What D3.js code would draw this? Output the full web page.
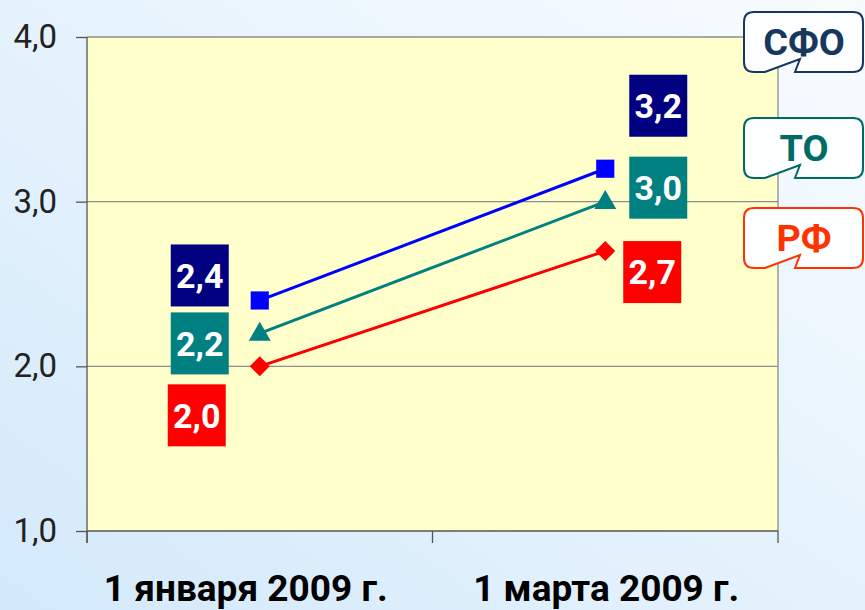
<!DOCTYPE html>
<html>
<head>
<meta charset="utf-8">
<script src="https://cdn.jsdelivr.net/npm/d3@7"></script>
<style>
  html, body { margin: 0; padding: 0; }
  body { width: 865px; height: 610px; overflow: hidden; font-family: Roboto, "Noto Sans", sans-serif; }
</style>
</head>
<body>
<div id="chart"></div>
<script>
// data
var categories = ["1 января 2009 г.", "1 марта 2009 г."];
var seriesNames = ["СФО", "ТО", "РФ"];
var sfoValues = [2.4, 3.2];
var toValues = [2.2, 3.0];
var rfValues = [2.0, 2.7];
var yTicks = [1, 2, 3, 4];

var width = 865, height = 610;
var plot = { left: 87, right: 778, top: 37, bottom: 531 };
var catShift = [-14, 1];

var series = [
    { name: seriesNames[0], values: sfoValues, line: "#0000ff", box: "#000080", marker: "square",
      offsets: [[-60, -25], [53, -63]], tag: "#17375e", tagY: 12 },
    { name: seriesNames[1], values: toValues, line: "#008080", box: "#008080", marker: "triangle",
      offsets: [[-60, 10], [53, -14]], tag: "#006b63", tagY: 118 },
    { name: seriesNames[2], values: rfValues, line: "#ff0000", box: "#ff0000", marker: "diamond",
      offsets: [[-63, 49], [47, 21]], tag: "#ff3300", tagY: 208 }
];

var fmt = function (d) { return d3.format(".1f")(d).replace(".", ","); };

var svg = d3.select("#chart").append("svg")
    .attr("width", width)
    .attr("height", height);

var defs = svg.append("defs");
var grad = defs.append("linearGradient")
    .attr("id", "bg")
    .attr("x1", 0).attr("y1", 1)
    .attr("x2", 1).attr("y2", 0);
grad.append("stop").attr("offset", "0%").attr("stop-color", "#d3e9fa");
grad.append("stop").attr("offset", "100%").attr("stop-color", "#f8fcff");

svg.append("rect")
    .attr("width", width)
    .attr("height", height)
    .attr("fill", "url(#bg)");

var x = d3.scaleBand().domain(categories).range([plot.left, plot.right]);
var y = d3.scaleLinear().domain([1, 4]).range([plot.bottom, plot.top]);

// plot area
svg.append("rect")
    .attr("x", plot.left)
    .attr("y", plot.top)
    .attr("width", plot.right - plot.left)
    .attr("height", plot.bottom - plot.top)
    .attr("fill", "#ffffcc");

// gridlines
svg.append("g")
    .selectAll("line")
    .data(yTicks.slice(1))
    .enter().append("line")
    .attr("x1", plot.left)
    .attr("x2", plot.right)
    .attr("y1", function (d) { return y(d); })
    .attr("y2", function (d) { return y(d); })
    .style("stroke", "#8c8c8c")
    .style("stroke-width", 1.3);

svg.append("line")
    .attr("x1", plot.right).attr("x2", plot.right)
    .attr("y1", plot.top).attr("y2", plot.bottom)
    .style("stroke", "#8c8c8c")
    .style("stroke-width", 1.3);

// y axis
var yAxis = d3.axisLeft(y)
    .tickValues(yTicks)
    .tickSize(11)
    .tickPadding(19)
    .tickFormat(fmt);

var gy = svg.append("g")
    .attr("transform", "translate(" + plot.left + ",0)")
    .call(yAxis);
gy.select(".domain").attr("d", "M0," + plot.top + "V" + (plot.bottom + 12))
    .style("stroke", "#555").style("stroke-width", 1.3);
gy.selectAll(".tick line").style("stroke", "#555").style("stroke-width", 1.3);
gy.selectAll(".tick text")
    .style("font-family", "Roboto, sans-serif")
    .style("font-size", "33px")
    .style("fill", "#222");

// x axis
var gx = svg.append("g")
    .attr("transform", "translate(0," + plot.bottom + ")");
gx.append("line")
    .attr("x1", plot.left).attr("x2", plot.right)
    .style("stroke", "#555").style("stroke-width", 1.3);
gx.selectAll(".xtick")
    .data(categories.map(function (c) { return x(c); }).concat([plot.right]))
    .enter().append("line")
    .attr("x1", function (d) { return d; })
    .attr("x2", function (d) { return d; })
    .attr("y1", 0).attr("y2", 12)
    .style("stroke", "#555").style("stroke-width", 1.3);
gx.selectAll(".xlabel")
    .data(categories)
    .enter().append("text")
    .attr("x", function (d, i) { return x(d) + x.bandwidth() / 2 + catShift[i]; })
    .attr("y", 70)
    .attr("text-anchor", "middle")
    .style("font-family", "Roboto, sans-serif")
    .style("font-weight", "bold")
    .style("font-size", "37px")
    .style("fill", "#000")
    .text(function (d) { return d; });

// lines and markers
var cx = function (i) { return x(categories[i]) + x.bandwidth() / 2; };
var line = d3.line()
    .x(function (d, i) { return cx(i); })
    .y(function (d) { return y(d); });

var symbolType = { square: d3.symbolSquare, triangle: d3.symbolTriangle, diamond: d3.symbolSquare };
var symbolSize = { square: 330, triangle: 210, diamond: 200 };

series.forEach(function (s) {
    var g = svg.append("g");
    g.append("path")
        .attr("d", line(s.values))
        .attr("fill", "none")
        .style("stroke", s.line)
        .style("stroke-width", 3);
    g.selectAll(".m")
        .data(s.values)
        .enter().append("path")
        .attr("transform", function (d, i) {
            var t = "translate(" + cx(i) + "," + (y(d) + (s.marker === "triangle" ? 1 : 0)) + ")";
            return s.marker === "diamond" ? t + " rotate(45)" : t;
        })
        .attr("d", d3.symbol().type(symbolType[s.marker]).size(symbolSize[s.marker]))
        .attr("fill", s.line);

    // value boxes
    var lab = g.selectAll(".lab")
        .data(s.values)
        .enter().append("g")
        .attr("transform", function (d, i) {
            return "translate(" + (cx(i) + s.offsets[i][0]) + "," + (y(d) + s.offsets[i][1]) + ")";
        });
    lab.append("rect")
        .attr("x", -29).attr("y", -31)
        .attr("width", 58).attr("height", 62)
        .attr("fill", s.box);
    lab.append("text")
        .attr("text-anchor", "middle")
        .attr("dy", "0.36em")
        .style("font-family", "Roboto, sans-serif")
        .style("font-weight", "bold")
        .style("font-size", "34px")
        .style("fill", "#fff")
        .text(fmt);

    // callout tag
    var t = svg.append("g").attr("transform", "translate(744," + s.tagY + ")");
    var w = 119, h = 60, r = 10;
    var p = d3.path();
    p.moveTo(r, 0);
    p.lineTo(w - r, 0);
    p.quadraticCurveTo(w, 0, w, r);
    p.lineTo(w, h - r);
    p.quadraticCurveTo(w, h, w - r, h);
    p.lineTo(51, h);
    p.lineTo(56, h - 13);
    p.lineTo(21, h);
    p.lineTo(r, h);
    p.quadraticCurveTo(0, h, 0, h - r);
    p.lineTo(0, r);
    p.quadraticCurveTo(0, 0, r, 0);
    p.closePath();
    t.append("path")
        .attr("d", p.toString())
        .attr("fill", "#fdfeff")
        .style("stroke", s.tag)
        .style("stroke-width", 2);
    t.append("g")
        .attr("transform", "translate(60,30) scale(1.05,1)")
        .append("text")
        .attr("dy", "0.36em")
        .attr("text-anchor", "middle")
        .style("font-family", "Roboto, sans-serif")
        .style("font-weight", "bold")
        .style("font-size", "36px")
        .style("fill", s.tag)
        .text(s.name);
});
</script>
</body>
</html>
